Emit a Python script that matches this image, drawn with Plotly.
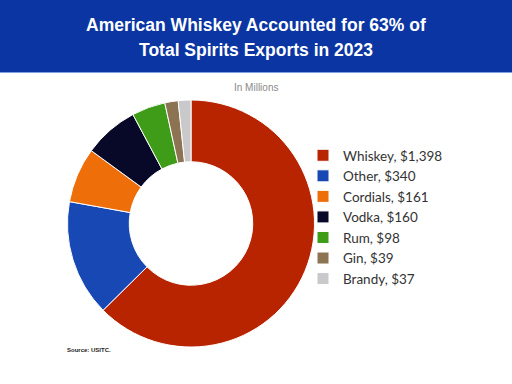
import plotly.graph_objects as go

categories = ["Whiskey", "Other", "Cordials", "Vodka", "Rum", "Gin", "Brandy"]
values = [1398, 340, 161, 160, 98, 39, 37]
colors = ["#B82400", "#1748B4", "#EE6E0A", "#080828", "#3E9C18", "#8C7352", "#C9C9CC"]
legend_labels = [f"{c}, ${v:,}" for c, v in zip(categories, values)]

title_lines = ["American Whiskey Accounted for 63% of", "Total Spirits Exports in 2023"]
subtitle = "In Millions"
source = "Source: USITC."

fig = go.Figure()
fig.add_trace(go.Pie(
    labels=legend_labels,
    values=values,
    marker=dict(colors=colors, line=dict(color="white", width=1)),
    hole=0.5,
    sort=False,
    direction="clockwise",
    rotation=0,
    textinfo="none",
    hoverinfo="label+percent",
    domain=dict(x=[67/512, 315/512], y=[37/384, 284/384]),
))

title_ann = [
    dict(text="<b>" + t + "</b>", xref="paper", yref="paper", x=0.5, y=(384 - yy)/384,
         xanchor="center", yanchor="middle", showarrow=False,
         font=dict(family="Liberation Sans, Arial, sans-serif", size=17.5, color="white"))
    for t, yy in zip(title_lines, [25, 50])
]

fig.update_layout(
    width=512, height=384,
    margin=dict(l=0, r=0, t=0, b=0),
    paper_bgcolor="white",
    plot_bgcolor="white",
    showlegend=True,
    legend=dict(
        x=303/512, y=(384-140)/384, xanchor="left", yanchor="top",
        font=dict(family="Lato, Open Sans, sans-serif", size=13.5, color="#333333"),
        bgcolor="rgba(0,0,0,0)",
        itemwidth=30,
        tracegroupgap=0,
    ),
    shapes=[
        dict(type="rect", xref="paper", yref="paper", x0=0, x1=1,
             y0=(384-72)/384, y1=1, fillcolor="#0A35A2", line=dict(width=0), layer="below"),
        dict(type="line", xref="paper", yref="paper", x0=0, x1=1,
             y0=(384-72.5)/384, y1=(384-72.5)/384, line=dict(color="#7FA0E0", width=1)),
    ],
    annotations=title_ann + [
        dict(text=subtitle, xref="paper", yref="paper", x=256/512, y=(384-87)/384,
             xanchor="center", yanchor="middle", showarrow=False,
             font=dict(family="Liberation Sans, Arial, sans-serif", size=10, color="#8A8A8A")),
        dict(text="<b>" + source + "</b>", xref="paper", yref="paper", x=65/512, y=(384-350)/384,
             xanchor="left", yanchor="middle", showarrow=False,
             font=dict(family="Liberation Sans, Arial, sans-serif", size=6, color="#222222")),
    ],
)

fig.write_html("out.html", config={"displayModeBar": False},
               post_script="document.body.style.margin='0';")
